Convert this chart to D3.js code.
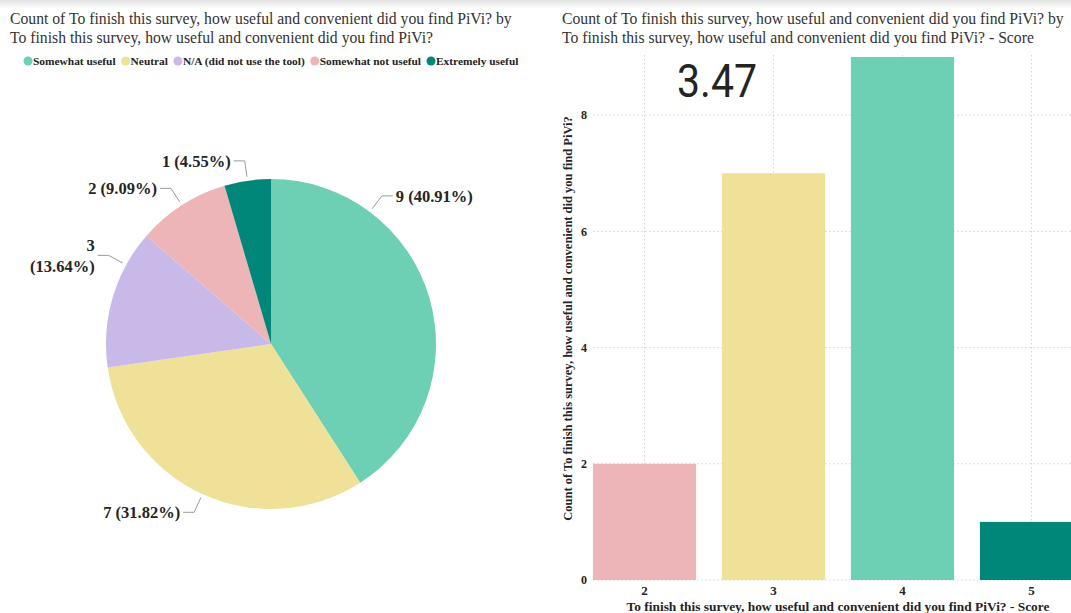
<!DOCTYPE html>
<html>
<head>
<meta charset="utf-8">
<style>
  body { margin: 0; background: #fff; }
  svg { display: block; }
  .serif { font-family: "Liberation Serif", "Times New Roman", serif; }
</style>
<script src="https://d3js.org/d3.v7.min.js"></script>
</head>
<body>
<svg width="1071" height="613"></svg>
<script>

// pie: answers to the question
var categories = ["Somewhat useful", "Neutral", "N/A (did not use the tool)", "Somewhat not useful", "Extremely useful"];
var counts = [9, 7, 3, 2, 1];
var colors = ["#6dcfb3", "#f0e199", "#c9b9e8", "#eeb5b8", "#01877a"];

// bars: score distribution
var scores = ["2", "3", "4", "5"];
var scoreCounts = [2, 7, 9, 1];
var scoreColors = ["#eeb5b8", "#f0e199", "#6dcfb3", "#01877a"];
var yTicks = [0, 2, 4, 6, 8];
var avgScore = "3.47";

var titleLeft = ["Count of To finish this survey, how useful and convenient did you find PiVi? by",
                 "To finish this survey, how useful and convenient did you find PiVi?"];
var titleRight = ["Count of To finish this survey, how useful and convenient did you find PiVi? by",
                  "To finish this survey, how useful and convenient did you find PiVi? - Score"];
var yTitle = "Count of To finish this survey, how useful and convenient did you find PiVi?";
var xTitle = "To finish this survey, how useful and convenient did you find PiVi? - Score";

var svg = d3.select("svg");

// top shadow strip
var defs = svg.append("defs");
var grad = defs.append("linearGradient").attr("id", "topShade").attr("x1", 0).attr("y1", 0).attr("x2", 0).attr("y2", 1);
grad.append("stop").attr("offset", "0%").attr("stop-color", "#e2e2e2");
grad.append("stop").attr("offset", "100%").attr("stop-color", "#ffffff");
svg.append("rect").attr("x", 0).attr("y", 0).attr("width", 1071).attr("height", 9).attr("fill", "url(#topShade)");

// titles
function title(lines, x) {
  svg.append("g").selectAll("text").data(lines).join("text")
    .attr("class", "serif")
    .attr("x", x).attr("y", function(d, i) { return 24 + i * 19; })
    .attr("font-size", 15.7).attr("fill", "#333")
    .text(function(d) { return d; });
}
title(titleLeft, 10);
title(titleRight, 562);

// legend
var legend = svg.append("g").attr("class", "serif");
var lx = 28;
categories.forEach(function(c, i) {
  legend.append("circle").attr("cx", lx).attr("cy", 61).attr("r", 4.5).attr("fill", colors[i]);
  var t = legend.append("text").attr("x", lx + 5).attr("y", 64.5)
    .attr("font-size", 11.4).attr("font-weight", "bold").attr("fill", "#252423").text(c);
  lx += 5 + t.node().getComputedTextLength() + 10;
});

// pie
var cx = 271, cy = 344, R = 165;
var total = d3.sum(counts);
var pie = d3.pie().sort(null).value(function(d) { return d; });
var arcs = pie(counts);
var arc = d3.arc().innerRadius(0).outerRadius(R);
var pg = svg.append("g").attr("transform", "translate(" + cx + "," + cy + ")");
pg.selectAll("path").data(arcs).join("path")
  .attr("d", arc)
  .attr("fill", function(d, i) { return colors[i]; });

// leader lines + labels (Power BI puts the big slices' lines off-centre)
var labelFrac = [0.25, 0.5, 0.75, 0.5, 0.5];
function polar(r, a) { return [r * Math.sin(a), -r * Math.cos(a)]; }
arcs.forEach(function(d, i) {
  var a = d.startAngle + labelFrac[i] * (d.endAngle - d.startAngle);
  var p1 = polar(R + 4, a), p2 = polar(R + 20, a);
  var right = Math.sin(a) > 0;
  var p3 = [p2[0] + (right ? 11 : -11), p2[1]];
  pg.append("path")
    .attr("d", d3.line()([p1, p2, p3]))
    .attr("fill", "none").attr("stroke", "#9a9a9a").attr("stroke-width", 1);
  var pct = (d.value / total * 100).toFixed(2);
  var label = pg.append("text").attr("class", "serif")
    .attr("font-size", 16.5).attr("font-weight", "bold").attr("fill", "#252423")
    .attr("text-anchor", right ? "start" : "end");
  var tx = p3[0] + (right ? 3 : -3);
  label.text(d.value + " (" + pct + "%)");
  var w = label.node().getComputedTextLength();
  if (!right && cx + tx - w < 25) {
    label.text(null);
    [String(d.value), "(" + pct + "%)"].forEach(function(s, k) {
      label.append("tspan").attr("x", tx).attr("y", p3[1] - 4.5 + k * 21).text(s);
    });
  } else {
    label.attr("x", tx).attr("y", p3[1] + 6);
  }
});

// bar chart
var x = d3.scaleBand().domain(scores).range([580, 1096]).paddingInner(0.2).paddingOuter(0.1);
var y = d3.scaleLinear().domain([0, 9]).range([580, 57]);
var bg = svg.append("g");

// dotted grid
bg.selectAll(".hg").data(yTicks.slice(1)).join("line")
  .attr("x1", 593).attr("x2", 1071)
  .attr("y1", function(d) { return y(d); }).attr("y2", function(d) { return y(d); })
  .attr("stroke", "#d4d4d4").attr("stroke-dasharray", "1.5,2.5");
bg.selectAll(".vg").data(scores).join("line")
  .attr("x1", function(d) { return x(d) + x.bandwidth() / 2; })
  .attr("x2", function(d) { return x(d) + x.bandwidth() / 2; })
  .attr("y1", 55).attr("y2", 580)
  .attr("stroke", "#d4d4d4").attr("stroke-dasharray", "1.5,2.5");
bg.append("line").attr("x1", 593).attr("x2", 1071).attr("y1", y(0)).attr("y2", y(0))
  .attr("stroke", "#d4d4d4").attr("stroke-dasharray", "1.5,2.5");

bg.selectAll("rect").data(scoreCounts).join("rect")
  .attr("x", function(d, i) { return x(scores[i]); })
  .attr("y", function(d) { return y(d); })
  .attr("width", x.bandwidth())
  .attr("height", function(d) { return y(0) - y(d); })
  .attr("fill", function(d, i) { return scoreColors[i]; });

// axes
var yAxis = bg.append("g").attr("transform", "translate(587,0)")
  .call(d3.axisLeft(y).tickValues(yTicks).tickSize(0).tickPadding(0));
yAxis.select(".domain").remove();
yAxis.selectAll("text").attr("class", "serif").style("font-size", "12px").style("font-weight", "bold")
  .attr("fill", "#252423");

var xAxis = bg.append("g").attr("transform", "translate(0,586)")
  .call(d3.axisBottom(x).tickSize(0).tickPadding(0));
xAxis.select(".domain").remove();
xAxis.selectAll("text").attr("class", "serif").style("font-size", "13px").style("font-weight", "bold")
  .attr("fill", "#252423");

svg.append("text").attr("class", "serif")
  .attr("x", (x.range()[0] + x.range()[1]) / 2).attr("y", 611)
  .attr("text-anchor", "middle").attr("font-size", 13.4).attr("font-weight", "bold").attr("fill", "#252423")
  .text(xTitle);
svg.append("text").attr("class", "serif")
  .attr("transform", "translate(572," + (y(0) + y(9)) / 2 + ") rotate(-90)")
  .attr("text-anchor", "middle").attr("font-size", 12.5).attr("font-weight", "bold").attr("fill", "#252423")
  .text(yTitle);

// card value
svg.append("text")
  .attr("x", 717).attr("y", 97)
  .attr("text-anchor", "middle")
  .attr("font-family", "Roboto, 'DejaVu Sans', sans-serif")
  .attr("font-size", 47).attr("fill", "#252423")
  .attr("textLength", 80).attr("lengthAdjust", "spacingAndGlyphs")
  .text(avgScore);

</script>
</body>
</html>
